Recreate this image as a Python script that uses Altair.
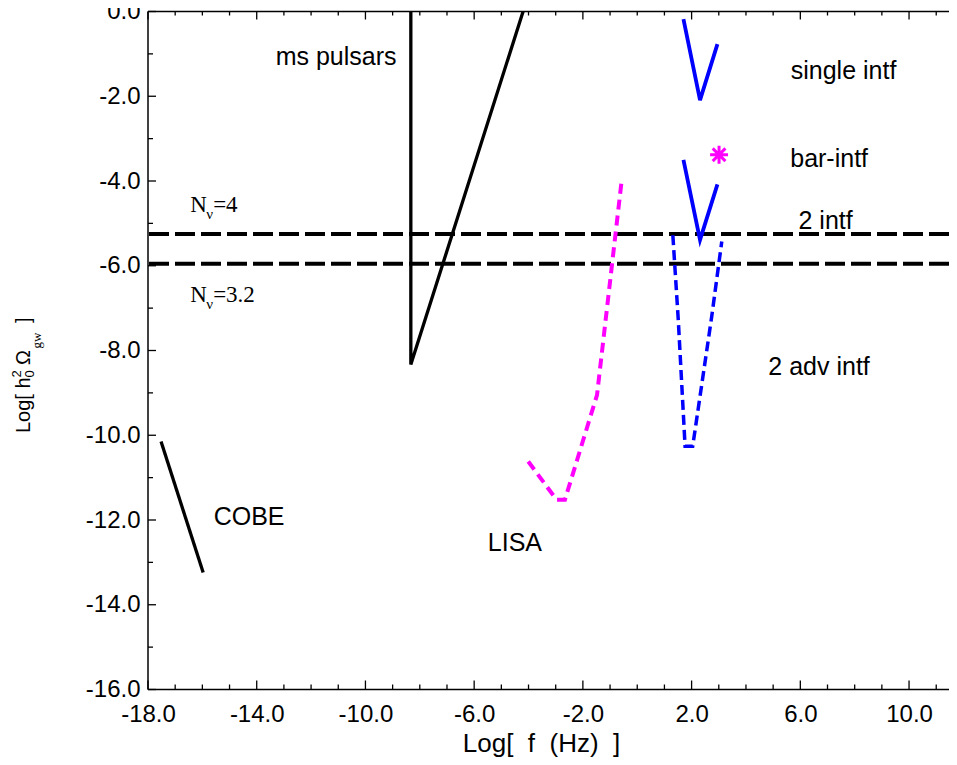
import altair as alt
import pandas as pd

# ---------------- data ----------------
pulsar_x = [-8.33, -8.33, -4.20]
pulsar_y = [0.0, -8.33, 0.0]
cobe_x = [-17.52, -15.97]
cobe_y = [-10.15, -13.24]
single_x = [1.70, 2.31, 2.95]
single_y = [-0.18, -2.09, -0.77]
barintf_x = [1.70, 2.31, 2.95]
barintf_y = [-3.50, -5.39, -4.08]
adv_x = [1.31, 1.51, 1.76, 2.04, 2.74, 3.11]
adv_y = [-5.28, -7.28, -10.26, -10.26, -7.20, -5.43]
lisa_x = [-4.01, -2.97, -2.66, -1.48, -0.57]
lisa_y = [-10.62, -11.52, -11.52, -9.05, -3.97]
star_x = [3.01]
star_y = [-3.38]
nnu_levels = [-5.25, -5.95]

label_texts = ["ms pulsars", "single intf", "bar-intf", "2 intf", "2 adv intf", "COBE", "LISA"]
label_x = [-11.08, 7.59, 7.06, 6.93, 6.69, -14.28, -4.50]
label_y = [-1.26, -1.60, -3.66, -5.14, -8.57, -12.11, -12.72]

nnu_text = ["=4", "=3.2"]
nnu_x = [-16.45, -16.45]
nnu_y = [-4.73, -6.85]

x_major = [-18, -14, -10, -6, -2, 2, 6, 10]
x_minor = [-17, -16, -15, -13, -12, -11, -9, -8, -7, -5, -4, -3, -1, 0, 1, 3, 4, 5, 7, 8, 9, 11]
y_major = [0, -2, -4, -6, -8, -10, -12, -14, -16]
y_minor = [-1, -3, -5, -7, -9, -11, -13, -15]

# ---------------- layout ----------------
W, H = 801, 678
X_DOMAIN = [-18, 11.47]
Y_DOMAIN = [-16, 0]
SANS = "Liberation Sans"
SERIF = "Liberation Serif"
NB = "\u00a0"

xscale = alt.Scale(domain=X_DOMAIN, nice=False, zero=False)
yscale = alt.Scale(domain=Y_DOMAIN, nice=False, zero=False)

lab_expr = "(datum.value < 0 ? '-' : '') + format(abs(datum.value), '.1f')"
xaxis = alt.Axis(values=x_major, labelExpr=lab_expr, labelFont=SANS, labelFontSize=24,
                 labelColor="black", ticks=False, tickSize=0, domain=False, grid=False,
                 labelPadding=13, labelFlush=False, labelOverlap=False,
                 title=f"Log[{NB} f{NB} (Hz){NB} ]", titleFont=SANS, titleFontSize=26,
                 titleFontWeight="normal", titleColor="black", titleX=393, titleY=61.5,
                 titleBaseline="alphabetic", titleAlign="center")
yaxis = alt.Axis(values=y_major, labelExpr=lab_expr, labelFont=SANS, labelFontSize=24,
                 labelColor="black", ticks=False, tickSize=0, domain=False, grid=False,
                 labelPadding=8, labelOverlap=False, title=None)


def X(field="x"):
    return alt.X(f"{field}:Q", scale=xscale, axis=xaxis)


def Y(field="y"):
    return alt.Y(f"{field}:Q", scale=yscale, axis=yaxis)


def line_df(name, xs, ys):
    return pd.DataFrame({"series": name, "order": list(range(len(xs))), "x": xs, "y": ys})


dummy = pd.DataFrame({"a": [0]})
layers = []

# frame (left, bottom, top)
for enc in [dict(x=alt.value(0), y=alt.value(0), y2=alt.value(H)),
            dict(x=alt.value(0), x2=alt.value(W), y=alt.value(H)),
            dict(x=alt.value(0), x2=alt.value(W), y=alt.value(0))]:
    layers.append(alt.Chart(dummy).mark_rule(color="black", strokeWidth=1.5).encode(**enc))

# inward tick marks
xt_major = pd.DataFrame({"x": x_major})
xt_minor = pd.DataFrame({"x": x_minor})
yt_major = pd.DataFrame({"y": y_major})
yt_minor = pd.DataFrame({"y": y_minor})
tick = dict(color="black", strokeWidth=1.3)
layers += [
    alt.Chart(xt_major).mark_rule(**tick).encode(x=X(), y=alt.value(H), y2=alt.value(H - 9)),
    alt.Chart(xt_minor).mark_rule(**tick).encode(x=X(), y=alt.value(H), y2=alt.value(H - 5)),
    alt.Chart(xt_major).mark_rule(**tick).encode(x=X(), y=alt.value(0), y2=alt.value(8)),
    alt.Chart(xt_minor).mark_rule(**tick).encode(x=X(), y=alt.value(0), y2=alt.value(4)),
    alt.Chart(yt_major).mark_rule(**tick).encode(y=Y(), x=alt.value(0), x2=alt.value(8)),
    alt.Chart(yt_minor).mark_rule(**tick).encode(y=Y(), x=alt.value(0), x2=alt.value(5)),
]

# N_nu dashed horizontal levels
layers.append(alt.Chart(pd.DataFrame({"y": nnu_levels})).mark_rule(
    color="black", strokeWidth=4, strokeDash=[20, 6]).encode(y=Y()))

# black solid curves
black_df = pd.concat([line_df("pulsars", pulsar_x, pulsar_y), line_df("cobe", cobe_x, cobe_y)])
layers.append(alt.Chart(black_df).mark_line(color="black", strokeWidth=3.3).encode(
    x=X(), y=Y(), detail="series:N", order="order:Q"))

# blue solid V's
blue_df = pd.concat([line_df("single", single_x, single_y), line_df("bar", barintf_x, barintf_y)])
layers.append(alt.Chart(blue_df).mark_line(color="#0000ff", strokeWidth=3.8).encode(
    x=X(), y=Y(), detail="series:N", order="order:Q"))

# blue dashed (2 adv intf)
layers.append(alt.Chart(line_df("adv", adv_x, adv_y)).mark_line(
    color="#0000ff", strokeWidth=3.5, strokeDash=[10, 5]).encode(x=X(), y=Y(), order="order:Q"))

# magenta dashed (LISA)
layers.append(alt.Chart(line_df("lisa", lisa_x, lisa_y)).mark_line(
    color="#ff00ff", strokeWidth=4, strokeDash=[10, 6]).encode(x=X(), y=Y(), order="order:Q"))

# magenta asterisk (bar-intf point)
star_shape = "M0,-1L0,1M-1,0L1,0M-0.707,-0.707L0.707,0.707M-0.707,0.707L0.707,-0.707"
layers.append(alt.Chart(pd.DataFrame({"x": star_x, "y": star_y})).mark_point(
    shape=star_shape, size=324, filled=False, stroke="#ff00ff", strokeWidth=3, opacity=1).encode(
    x=X(), y=Y()))

# annotations
lab_df = pd.DataFrame({"x": label_x, "y": label_y, "t": label_texts})
layers.append(alt.Chart(lab_df).mark_text(
    font=SANS, fontSize=25, color="black", align="center", baseline="alphabetic").encode(
    x=X(), y=Y(), text="t:N"))

nnu_df = pd.DataFrame({"x": nnu_x, "y": nnu_y, "t": nnu_text})
layers += [
    alt.Chart(nnu_df).mark_text(font=SERIF, fontSize=23, color="black", align="left",
                                baseline="alphabetic").encode(x=X(), y=Y(), text=alt.value("N")),
    alt.Chart(nnu_df).mark_text(font=SERIF, fontSize=15, color="black", align="left",
                                baseline="alphabetic", dx=16, dy=7).encode(
        x=X(), y=Y(), text=alt.value("\u03bd")),
    alt.Chart(nnu_df).mark_text(font=SERIF, fontSize=23, color="black", align="left",
                                baseline="alphabetic", dx=23).encode(x=X(), y=Y(), text="t:N"),
]

# y-axis title: Log[ h_0^2 Omega_gw ]  (rotated pieces)
ytitle_parts = [
    ("Log[ h", SANS, 20, -118, 421.5),
    ("0", SANS, 13, -114, 366),
    ("2", SANS, 13, -127, 366),
    ("\u03a9", SANS, 20, -118, 353.5),
    ("gw", SERIF, 13, -107, 337),
    ("]", SANS, 20, -118, 311.5),
]
for txt, fnt, fs, px, py in ytitle_parts:
    layers.append(alt.Chart(dummy).mark_text(
        font=fnt, fontSize=fs, color="black", angle=270, align="left", baseline="alphabetic").encode(
        x=alt.value(px), y=alt.value(py), text=alt.value(txt)))

chart = alt.layer(*layers).properties(
    width=W, height=H,
    autosize=alt.AutoSizeParams(type="none"),
    padding={"left": 140, "top": 3.5, "right": 0, "bottom": 67},
    background="white",
).configure_view(stroke=None)

chart.save("out.html", embed_options={"renderer": "svg", "actions": False})
